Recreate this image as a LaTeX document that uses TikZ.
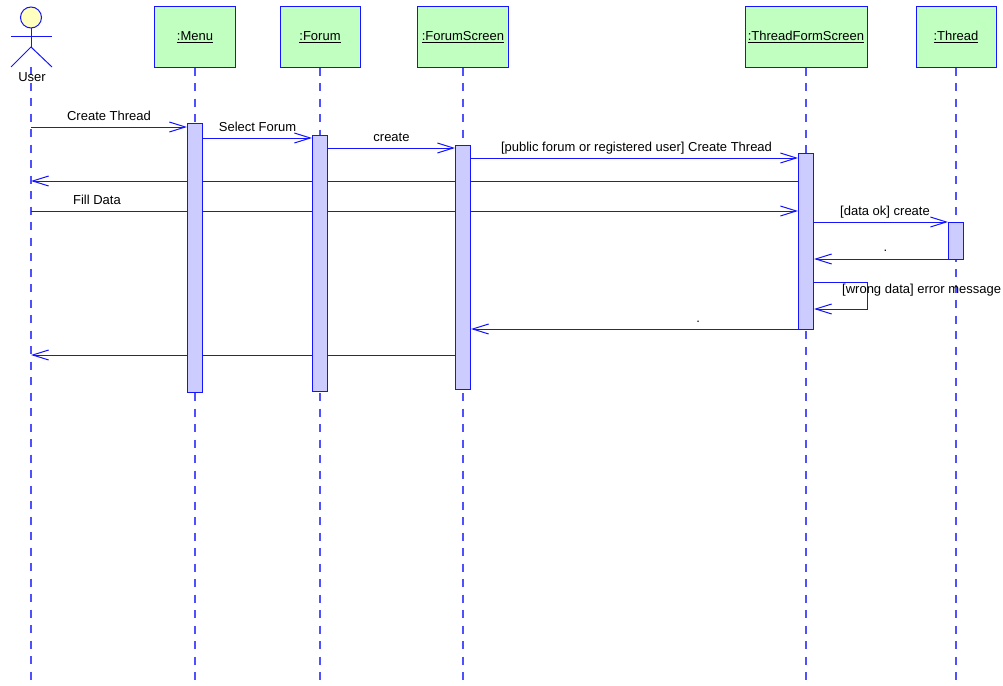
\documentclass[tikz,border=0pt]{standalone}
\usepackage{fontspec}
\setmainfont{Liberation Sans}
\usetikzlibrary{positioning,arrows.meta,backgrounds}
\definecolor{umlblue}{RGB}{20,20,255}
\definecolor{lifeblue}{RGB}{80,80,255}
\definecolor{objgreen}{RGB}{192,255,192}
\definecolor{barfill}{RGB}{204,204,255}
\definecolor{headfill}{RGB}{255,255,192}

\begin{document}
\begin{tikzpicture}[x=1pt, y=-1pt,
				objnode/.style={rectangle, draw=umlblue, fill=objgreen, line width=1pt, minimum height=60pt, inner sep=0pt, font=\fontsize{13}{15}\selectfont},
				actbar/.style={rectangle, draw=umlblue, fill=barfill, line width=1pt, minimum width=15pt, inner sep=0pt, anchor=north},
				lifeline/.style={draw=lifeblue, line width=1.3pt, dash pattern=on 8pt off 7.5pt},
				actorline/.style={draw=umlblue, line width=1pt},
				msg/.style={draw=umlblue, line width=1pt, -{Straight Barb[length=16pt, width=10pt]}},
				msglabel/.style={font=\fontsize{13}{15}\selectfont, inner sep=0pt, anchor=base, yshift=7pt},
			]
			\useasboundingbox (0,0) rectangle (1003,685);
			\coordinate (bottom) at (0,685);
			% actor
			\node[circle, draw=umlblue, fill=headfill, line width=1pt, minimum size=21pt, inner sep=0pt] (userhead) at (31,17.5) {};
			\coordinate (hip) at (31,47);
			\coordinate (user) at (31,67);
			\draw[actorline] (userhead.south) -- (hip);
			\draw[actorline] (11,37) -- (52,37);
			\draw[actorline] (11,67) -- (hip) -- (52,67);
			% objects
			\node[objnode, minimum width=81pt] (menu) at (195,37) {\underline{:Menu}};
			\node[objnode, minimum width=80pt] (forum) at (320,37) {\underline{:Forum}};
			\node[objnode, minimum width=91pt] (forumscreen) at (463,37) {\underline{:ForumScreen}};
			\node[objnode, minimum width=122pt] (threadform) at (806,37) {\underline{:ThreadFormScreen}};
			\node[objnode, minimum width=80pt] (thread) at (956,37) {\underline{:Thread}};
			% activations
			\node[actbar, minimum height=269pt] (menubar) at (menu.south |- 0,123) {};
			\node[actbar, minimum height=256pt] (forumbar) at (forum.south |- 0,135) {};
			\node[actbar, minimum height=244pt] (screenbar) at (forumscreen.south |- 0,145) {};
			\node[actbar, minimum height=176pt] (formbar) at (threadform.south |- 0,153) {};
			\node[actbar, minimum height=37pt] (threadbar) at (thread.south |- 0,222) {};
			\begin{pgfonlayer}{background}
			\draw[lifeline] (user) -- (user |- bottom);
			\draw[lifeline] (menu.south) -- (menu.south |- bottom);
			\draw[lifeline] (forum.south) -- (forum.south |- bottom);
			\draw[lifeline] (forumscreen.south) -- (forumscreen.south |- bottom);
			\draw[lifeline] (threadform.south) -- (threadform.south |- bottom);
			\draw[lifeline] (thread.south) -- (thread.south |- bottom);
			\node[font=\fontsize{13}{15}\selectfont, inner sep=0pt] (userlbl) at (32,77.5) {User};
			% messages
			\draw[msg] (user |- 0,127) -- (menubar.west |- 0,127) node[msglabel, midway] {Create Thread};
			\draw[msg] (menubar.east |- 0,138) -- (forumbar.west |- 0,138) node[msglabel, midway] {Select Forum};
			\draw[msg] (forumbar.east |- 0,148) -- (screenbar.west |- 0,148) node[msglabel, midway] {create};
			\draw[msg] (screenbar.east |- 0,158) -- (formbar.west |- 0,158) node[msglabel, midway, xshift=2pt] {[public forum or registered user] Create Thread};
			\draw[msg] (formbar.west |- 0,181) -- (user |- 0,181);
			\draw[msg] (user |- 0,211) -- (formbar.west |- 0,211) node[msglabel, pos=0.086] {Fill Data};
			\draw[msg] (formbar.east |- 0,222) -- (threadbar.west |- 0,222) node[msglabel, midway, xshift=4pt] {[data ok] create};
			\draw[msg] (threadbar.west |- 0,259) -- (formbar.east |- 0,259) node[msglabel, pos=0.467, yshift=1pt] {.};
			\draw[msg] (formbar.east |- 0,282) -- ++(53,0) -- ++(0,27) -- (formbar.east |- 0,309);
			\node[msglabel, anchor=base west, yshift=0pt] (wronglbl) at (842,300) {[wrong data] error message};
			\draw[msg] (formbar.west |- 0,329) -- (screenbar.east |- 0,329) node[msglabel, pos=0.305] {.};
			\draw[msg] (screenbar.west |- 0,355) -- (user |- 0,355);
			\end{pgfonlayer}
			\end{tikzpicture}
\end{document}
